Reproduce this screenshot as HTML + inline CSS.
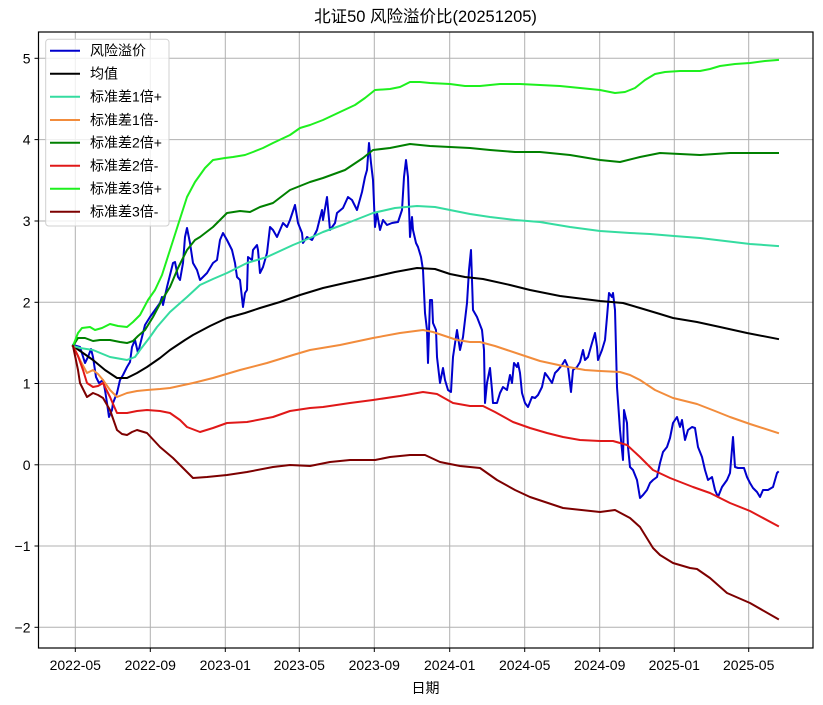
<!DOCTYPE html>
<html>
<head>
<meta charset="utf-8">
<style>
html,body{margin:0;padding:0;background:#fff;}
svg{display:block;}
text{font-family:"Liberation Sans","Noto Sans CJK SC",sans-serif;fill:#000;}
</style>
</head>
<body>
<svg width="823" height="705" viewBox="0 0 823 705" xmlns="http://www.w3.org/2000/svg">
<rect x="0" y="0" width="823" height="705" fill="#fff"/>
<!-- title -->
<text x="425.5" y="17" font-size="16.5" text-anchor="middle" dominant-baseline="central">北证50 风险溢价比(20251205)</text>
<!-- grid -->
<g stroke="#b0b0b0" stroke-width="1">
<line x1="75.3" y1="32" x2="75.3" y2="648"/>
<line x1="150.3" y1="32" x2="150.3" y2="648"/>
<line x1="225.3" y1="32" x2="225.3" y2="648"/>
<line x1="299.3" y1="32" x2="299.3" y2="648"/>
<line x1="374.3" y1="32" x2="374.3" y2="648"/>
<line x1="449.7" y1="32" x2="449.7" y2="648"/>
<line x1="524.7" y1="32" x2="524.7" y2="648"/>
<line x1="599.7" y1="32" x2="599.7" y2="648"/>
<line x1="674.3" y1="32" x2="674.3" y2="648"/>
<line x1="748.7" y1="32" x2="748.7" y2="648"/>
<line x1="38.5" y1="58.3" x2="813" y2="58.3"/>
<line x1="38.5" y1="139.6" x2="813" y2="139.6"/>
<line x1="38.5" y1="221" x2="813" y2="221"/>
<line x1="38.5" y1="302.3" x2="813" y2="302.3"/>
<line x1="38.5" y1="383.5" x2="813" y2="383.5"/>
<line x1="38.5" y1="464.8" x2="813" y2="464.8"/>
<line x1="38.5" y1="546" x2="813" y2="546"/>
<line x1="38.5" y1="627.3" x2="813" y2="627.3"/>
</g>
<!-- series -->
<g fill="none" stroke-width="2" stroke-linejoin="round" stroke-linecap="square">
<polyline stroke="#0000cd" points="73,345 80,347 85,363 88,357 91,349 93,357 96,377 99,383 103,380 105,390 107,403 109,417 112,410 113,403 117,393 120,380 123,375 127,367 130,362 132,347 135,340 138,353 142,337 145,325 150,317 155,310 160,303 162,297 163,305 167,287 173,263 175,262 178,277 180,280 183,263 185,237 187,228 190,243 193,263 197,270 200,280 203,277 207,273 213,263 217,260 220,240 223,233 227,240 232,250 235,263 237,277 240,280 243,307 245,293 247,290 248,257 252,260 253,250 257,245 258,250 260,273 263,267 267,253 270,227 273,230 277,237 280,230 283,223 287,227 290,220 295,205 298,223 302,233 303,243 307,237 312,240 317,230 322,210 323,220 327,197 330,230 335,223 337,213 343,208 348,197 352,200 357,210 362,192 365,177 367,170 369,143 371,163 373,180 375,227 377,213 380,230 383,220 387,225 392,223 398,222 402,210 404,177 406,160 408,177 410,237 412,217 413,230 416,243 418,247 421,257 423,270 425,313 427,330 428,363 430,300 432,300 433,323 436,330 437,357 440,383 443,368 445,380 448,390 451,392 453,357 457,330 460,350 463,337 467,303 469,270 471,250 473,310 477,317 482,330 484,350 485,403 487,383 490,368 492,390 493,403 497,403 500,393 503,387 507,390 510,375 512,383 514,363 517,367 518,363 520,373 522,393 525,403 528,407 532,397 535,398 538,395 542,387 545,373 548,377 552,383 555,373 558,370 562,365 565,360 568,367 571,392 573,370 577,367 580,362 583,350 585,360 588,357 592,343 595,333 597,347 598,360 602,350 605,340 607,317 609,293 612,297 613,293 615,310 617,387 620,430 623,460 624,410 627,423 628,447 630,467 633,470 637,480 640,498 643,495 647,490 650,483 653,480 657,477 660,463 663,452 667,447 670,438 673,423 677,417 680,427 682,420 685,440 688,430 692,427 695,428 698,447 702,457 705,470 708,480 712,477 715,490 718,497 722,487 727,480 730,473 733,437 735,467 738,468 744,468 747,477 750,483 753,488 757,492 760,497 763,490 768,490 773,487 777,473 778,472"/>
<polyline stroke="#000000" points="73,346 93,360 105,370 117,378 127,378 137,373 147,367 160,358 170,350 185,340 193,335 210,326 227,318 245,313 260,308 280,302 300,295 323,288 345,283 373,277 395,272 417,268 435,269 450,274 465,277 483,279 510,285 530,290 560,296 600,301 623,303 640,308 660,314 673,318 697,322 720,327 747,333 778,339"/>
<polyline stroke="#35dca0" points="73,346 80,348 93,350 110,357 127,360 135,357 140,350 150,337 157,327 170,312 187,297 200,285 213,279 227,273 247,263 267,257 293,245 310,238 323,232 345,224 373,213 395,208 417,206 435,207 450,210 470,214 490,217 515,220 540,222 570,227 600,231 630,233 650,234 674,236 700,238 725,241 750,244 778,246"/>
<polyline stroke="#f28c3c" points="73,346 80,360 87,373 93,370 98,374 103,380 110,390 117,397 127,393 137,391 147,390 160,389 170,388 193,383 213,378 240,370 267,363 293,355 310,350 340,345 373,338 400,333 423,330 433,332 445,336 457,340 470,342 480,342 495,346 507,350 525,356 540,361 563,366 585,370 600,371 620,372 630,375 640,380 655,390 673,398 697,404 715,411 730,417 750,424 778,433"/>
<polyline stroke="#008000" points="73,346 78,338 85,338 93,341 100,340 110,340 120,342 127,343 133,341 138,336 145,330 153,317 162,300 170,287 178,268 187,250 195,240 200,237 213,227 227,213 240,211 250,212 260,207 273,203 290,190 310,182 323,178 345,170 363,158 373,150 390,148 410,144 430,146 450,147 470,148 490,150 515,152 540,152 570,155 600,160 620,162 640,157 660,153 680,154 700,155 730,153 760,153 778,153"/>
<polyline stroke="#e01818" points="73,346 78,356 83,370 87,383 93,387 98,386 103,383 110,397 117,413 127,413 137,411 147,410 160,411 170,413 180,420 187,427 200,432 213,428 227,423 247,422 273,417 290,411 310,408 323,407 350,403 373,400 400,396 423,392 437,394 453,403 470,406 483,406 495,412 513,422 530,428 547,433 563,437 580,440 600,441 613,441 627,445 640,457 653,470 670,478 693,487 710,493 730,503 750,511 778,526"/>
<polyline stroke="#1ef01e" points="73,346 78,333 82,328 90,327 95,330 102,328 110,324 118,326 127,327 133,322 140,315 148,300 155,290 162,275 170,250 178,225 187,197 195,182 205,168 213,160 225,158 233,157 245,155 253,152 263,148 273,143 290,135 300,128 310,125 323,120 340,112 355,105 365,98 375,90 390,89 400,87 410,82 420,82 430,83 450,84 465,86 480,86 500,84 520,84 540,85 560,86 580,88 600,90 615,93 625,92 635,88 645,80 655,74 665,72 680,71 700,71 710,69 720,66 735,64 750,63 765,61 778,60"/>
<polyline stroke="#7d0000" points="73,346 78,370 80,383 87,397 93,393 98,395 103,398 110,410 117,430 122,434 127,435 132,432 137,430 147,433 160,447 173,458 187,472 193,478 207,477 227,475 247,472 273,467 290,465 310,466 330,462 350,460 375,460 390,457 410,455 425,455 440,462 460,466 480,468 497,480 515,490 530,497 563,508 600,512 615,510 630,518 640,527 653,548 660,555 673,563 690,568 697,569 710,578 727,593 750,603 778,619"/>
</g>
<!-- spines -->
<rect x="38.5" y="32" width="774.5" height="616" fill="none" stroke="#000" stroke-width="1.2"/>
<!-- ticks -->
<g stroke="#000" stroke-width="1">
<line x1="75.3" y1="648" x2="75.3" y2="652"/>
<line x1="150.3" y1="648" x2="150.3" y2="652"/>
<line x1="225.3" y1="648" x2="225.3" y2="652"/>
<line x1="299.3" y1="648" x2="299.3" y2="652"/>
<line x1="374.3" y1="648" x2="374.3" y2="652"/>
<line x1="449.7" y1="648" x2="449.7" y2="652"/>
<line x1="524.7" y1="648" x2="524.7" y2="652"/>
<line x1="599.7" y1="648" x2="599.7" y2="652"/>
<line x1="674.3" y1="648" x2="674.3" y2="652"/>
<line x1="748.7" y1="648" x2="748.7" y2="652"/>
<line x1="34.5" y1="58.3" x2="38.5" y2="58.3"/>
<line x1="34.5" y1="139.6" x2="38.5" y2="139.6"/>
<line x1="34.5" y1="221" x2="38.5" y2="221"/>
<line x1="34.5" y1="302.3" x2="38.5" y2="302.3"/>
<line x1="34.5" y1="383.5" x2="38.5" y2="383.5"/>
<line x1="34.5" y1="464.8" x2="38.5" y2="464.8"/>
<line x1="34.5" y1="546" x2="38.5" y2="546"/>
<line x1="34.5" y1="627.3" x2="38.5" y2="627.3"/>
</g>
<g font-size="14" text-anchor="end" dominant-baseline="central">
<text x="30.5" y="58.3">5</text>
<text x="30.5" y="139.6">4</text>
<text x="30.5" y="221">3</text>
<text x="30.5" y="302.3">2</text>
<text x="30.5" y="383.5">1</text>
<text x="30.5" y="464.8">0</text>
<text x="30.5" y="546">−1</text>
<text x="30.5" y="627.3">−2</text>
</g>
<g font-size="14" text-anchor="middle" dominant-baseline="central">
<text x="75.3" y="665">2022-05</text>
<text x="150.3" y="665">2022-09</text>
<text x="225.3" y="665">2023-01</text>
<text x="299.3" y="665">2023-05</text>
<text x="374.3" y="665">2023-09</text>
<text x="449.7" y="665">2024-01</text>
<text x="524.7" y="665">2024-05</text>
<text x="599.7" y="665">2024-09</text>
<text x="674.3" y="665">2025-01</text>
<text x="748.7" y="665">2025-05</text>
<text x="425.5" y="688">日期</text>
</g>
<!-- legend -->
<rect x="45.7" y="39.3" width="123.3" height="186.7" rx="3" ry="3" fill="#fff" fill-opacity="0.8" stroke="#d0d0d0" stroke-width="1"/>
<g stroke-width="2">
<line x1="50" y1="50.7" x2="80" y2="50.7" stroke="#0000cd"/>
<line x1="50" y1="73.7" x2="80" y2="73.7" stroke="#000000"/>
<line x1="50" y1="96.7" x2="80" y2="96.7" stroke="#35dca0"/>
<line x1="50" y1="120" x2="80" y2="120" stroke="#f28c3c"/>
<line x1="50" y1="142.7" x2="80" y2="142.7" stroke="#008000"/>
<line x1="50" y1="165.7" x2="80" y2="165.7" stroke="#e01818"/>
<line x1="50" y1="188.7" x2="80" y2="188.7" stroke="#1ef01e"/>
<line x1="50" y1="211.7" x2="80" y2="211.7" stroke="#7d0000"/>
</g>
<g font-size="14" dominant-baseline="central">
<text x="90" y="50.7">风险溢价</text>
<text x="90" y="73.7">均值</text>
<text x="90" y="96.7">标准差1倍+</text>
<text x="90" y="120">标准差1倍-</text>
<text x="90" y="142.7">标准差2倍+</text>
<text x="90" y="165.7">标准差2倍-</text>
<text x="90" y="188.7">标准差3倍+</text>
<text x="90" y="211.7">标准差3倍-</text>
</g>
</svg>
</body>
</html>
